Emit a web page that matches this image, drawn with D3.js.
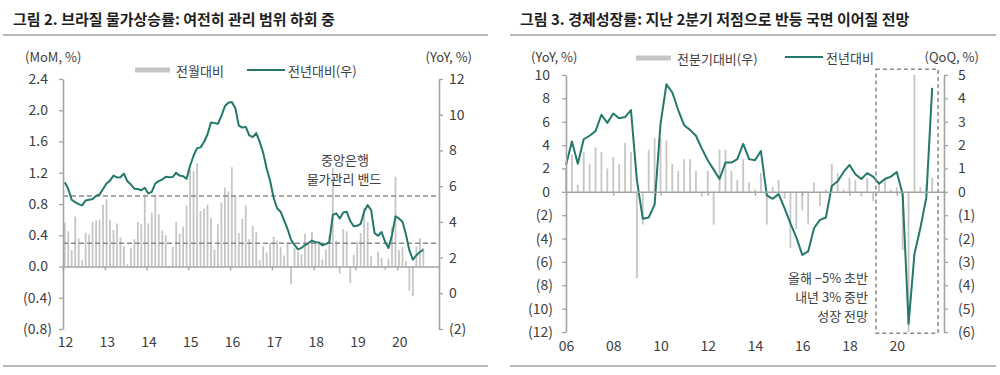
<!DOCTYPE html>
<html>
<head>
<meta charset="utf-8">
<script src="https://cdn.jsdelivr.net/npm/d3@7"></script>
<style>
  body { margin: 0; background: #fff; }
  svg { display: block; font-family: "Noto Sans CJK KR", "Noto Sans", sans-serif; }
</style>
</head>
<body>
<svg id="chart" width="1000" height="375"></svg>
<script>
// ---------- 그림 2: 브라질 물가상승률 (monthly, 2012.01 ~ 2020.08) ----------
const cpiStart = [2012, 1];
const cpiMoM = [
  0.56, 0.45, 0.21, 0.64, 0.36, 0.08, 0.43, 0.41, 0.57, 0.59, 0.60, 0.79,
  0.86, 0.60, 0.47, 0.55, 0.37, 0.26, 0.03, 0.24, 0.35, 0.57, 0.54, 0.92,
  0.55, 0.69, 0.92, 0.67, 0.46, 0.40, 0.01, 0.25, 0.57, 0.42, 0.51, 0.78,
  1.24, 1.22, 1.32, 0.71, 0.74, 0.79, 0.62, 0.22, 0.54, 0.82, 1.01, 0.96,
  1.27, 0.90, 0.43, 0.61, 0.78, 0.35, 0.52, 0.44, 0.08, 0.26, 0.18, 0.30,
  0.38, 0.33, 0.25, 0.14, 0.31, -0.23, 0.24, 0.19, 0.16, 0.42, 0.28, 0.44,
  0.29, 0.32, 0.09, 0.22, 0.40, 1.26, 0.33, -0.09, 0.48, 0.45, -0.21, 0.15,
  0.32, 0.43, 0.75, 0.57, 0.13, 0.01, 0.19, 0.11, -0.04, 0.10, 0.51, 1.15,
  0.21, 0.25, 0.07, -0.31, -0.38, 0.26, 0.36, 0.24
];
const cpiYoY = [
  6.22, 5.85, 5.24, 5.10, 4.99, 4.92, 5.20, 5.24, 5.28, 5.45, 5.53, 5.84,
  6.15, 6.31, 6.59, 6.49, 6.50, 6.70, 6.27, 6.09, 5.86, 5.84, 5.77, 5.91,
  5.59, 5.68, 6.15, 6.28, 6.37, 6.52, 6.50, 6.51, 6.75, 6.59, 6.56, 6.41,
  7.14, 7.70, 8.13, 8.17, 8.47, 8.89, 9.56, 9.53, 9.49, 9.93, 10.48, 10.67,
  10.71, 10.36, 9.39, 9.28, 9.32, 8.84, 8.74, 8.97, 8.48, 7.87, 6.99, 6.29,
  5.35, 4.76, 4.57, 4.08, 3.60, 3.00, 2.71, 2.46, 2.54, 2.70, 2.80, 2.95,
  2.86, 2.84, 2.68, 2.76, 2.86, 4.39, 4.48, 4.19, 4.53, 4.56, 4.05, 3.75,
  3.78, 3.89, 4.58, 4.94, 4.66, 3.37, 3.22, 3.43, 2.89, 2.54, 3.27, 4.31,
  4.19, 4.01, 3.30, 2.40, 1.88, 2.13, 2.31, 2.44
];
const cpiBand = [2.8, 5.45];               // 중앙은행 물가관리 밴드 (YoY axis)
const cpiYears = [2012, 2013, 2014, 2015, 2016, 2017, 2018, 2019, 2020];
const cpiLeftTicks = [-0.8, -0.4, 0, 0.4, 0.8, 1.2, 1.6, 2.0, 2.4];
const cpiRightTicks = [-2, 0, 2, 4, 6, 8, 10, 12];

// ---------- 그림 3: 경제성장률 (quarterly, 2005.4Q ~ 2021.2Q) ----------
const gdpStart = [2005, 4];
const gdpYoY = [
  2.3, 4.3, 2.4, 4.5, 4.8, 5.2, 6.6, 5.9, 6.7, 6.3, 6.4, 7.0,
  1.0, -2.3, -2.2, -1.1, 5.8, 9.2, 8.5, 7.0, 5.7, 5.3, 4.8, 3.7,
  2.7, 1.9, 1.1, 2.5, 2.5, 2.8, 4.1, 2.8, 2.7, 3.5, -0.3, -0.6,
  -0.2, -1.4, -2.7, -3.9, -5.4, -5.1, -3.1, -2.4, -2.2, 0.5, 0.9, 1.7,
  2.3, 1.5, 1.1, 1.6, 1.3, 0.7, 1.1, 1.3, 1.7, -0.2, -11.3, -5.3,
  -3.1, -0.5, 8.9
];
const gdpQoQ = [
  1.0, 1.6, 0.3, 1.7, 1.2, 1.9, 1.7, 1.0, 1.5, 1.2, 2.1, 1.7,
  -3.7, -1.4, 1.8, 2.3, 2.3, 2.2, 1.2, 0.9, 1.4, 1.4, 0.9, -0.2,
  0.9, -1.4, 1.8, 1.8, 0.9, 0.5, 1.4, 0.4, 0.1, 0.8, -1.4, 0.2,
  0.5, -0.3, -2.4, -1.6, -0.8, -1.4, 0.4, -0.6, 0.1, 1.2, 0.8, 0.1,
  0.6, 0.5, -0.2, 0.6, -0.4, 0.4, 0.5, 0.1, 0.2, -2.5, -6.0, 5.0,
  0.2, 0.3, 0.6
];
const gdpForecastSpan = [2019.12, 2021.75];  // 전망 구간 (dashed box, in years)
const gdpYears = [2006, 2008, 2010, 2012, 2014, 2016, 2018, 2020];
const gdpLeftTicks = [-12, -10, -8, -6, -4, -2, 0, 2, 4, 6, 8, 10];
const gdpRightTicks = [-6, -5, -4, -3, -2, -1, 0, 1, 2, 3, 4, 5];

const lineColor = "#23786b";
const barColor = "#c6c6c6";
const axisColor = "#a3a3a3";
const textColor = "#404040";

const svg = d3.select("#chart");

// number with accounting style negatives
function fmt(decimals) {
  return v => {
    const s = Math.abs(v).toFixed(decimals);
    return v < 0 ? `(${s})` : s;
  };
}

function styleAxis(g) {
  g.select(".domain").attr("stroke", axisColor).attr("stroke-width", 1.6);
  g.selectAll(".tick line").attr("stroke", axisColor).attr("stroke-width", 1.3);
  g.selectAll(".tick text").attr("fill", textColor).style("font-size", "14px")
    .style("font-family", '"Noto Sans CJK KR", sans-serif');
}

function header(x0, x1, title) {
  svg.append("text")
    .attr("x", x0 + 10).attr("y", 18)
    .attr("dominant-baseline", "central")
    .style("font-size", "15px").style("font-weight", "700")
    .attr("fill", "#1e1e1e")
    .text(title);
  svg.append("line").attr("x1", x0).attr("x2", x1).attr("y1", 35).attr("y2", 35)
    .attr("stroke", "#a0a0a0").attr("stroke-width", 1.5);
  svg.append("line").attr("x1", x0).attr("x2", x1).attr("y1", 366).attr("y2", 366)
    .attr("stroke", "#a0a0a0").attr("stroke-width", 1.5);
}

function label(x, y, txt, anchor) {
  return svg.append("text")
    .attr("x", x).attr("y", y)
    .attr("text-anchor", anchor || "start")
    .attr("dominant-baseline", "central")
    .attr("fill", textColor)
    .style("font-size", "13px")
    .text(txt);
}

function legend(x, y, kind, txt) {
  if (kind === "bar") {
    svg.append("rect").attr("x", x).attr("y", y - 2.5).attr("width", 35).attr("height", 5)
      .attr("fill", barColor);
  } else {
    svg.append("line").attr("x1", x).attr("x2", x + 38).attr("y1", y).attr("y2", y)
      .attr("stroke", lineColor).attr("stroke-width", 2);
  }
  label(x + 41, y, txt);
}

// ======================= 그림 2 =======================
{
  header(3, 488, "그림 2. 브라질 물가상승률: 여전히 관리 범위 하회 중");

  const x = d3.scaleLinear().domain([2012, 2021]).range([63, 439]);
  const yL = d3.scaleLinear().domain([-0.8, 2.4]).range([329, 79]);
  const yR = d3.scaleLinear().domain([-2, 12]).range([329, 79]);
  const t = i => cpiStart[0] + (cpiStart[1] - 1 + i + 0.5) / 12;

  // bars
  svg.append("g").selectAll("rect")
    .data(cpiMoM)
    .join("rect")
    .attr("x", (d, i) => x(t(i)) - 0.9)
    .attr("width", 1.8)
    .attr("y", d => yL(Math.max(0, d)))
    .attr("height", d => Math.abs(yL(d) - yL(0)))
    .attr("fill", barColor);

  // band lines
  svg.append("g").selectAll("line")
    .data(cpiBand)
    .join("line")
    .attr("x1", x(2012)).attr("x2", x(2021))
    .attr("y1", d => yR(d)).attr("y2", d => yR(d))
    .attr("stroke", "#8a8a8a").attr("stroke-width", 1.5)
    .attr("stroke-dasharray", "5,3");

  // YoY line
  svg.append("path")
    .datum(cpiYoY)
    .attr("fill", "none")
    .attr("stroke", lineColor)
    .attr("stroke-width", 2)
    .attr("stroke-linejoin", "round")
    .attr("d", d3.line().x((d, i) => x(t(i))).y(d => yR(d)));

  // axes
  const axL = svg.append("g").attr("transform", `translate(${x(2012)},0)`)
    .call(d3.axisLeft(yL).tickValues(cpiLeftTicks).tickFormat(fmt(1))
      .tickSize(4).tickSizeOuter(0).tickPadding(7));
  styleAxis(axL);
  axL.selectAll(".tick text").attr("dx", d => d < 0 ? 0 : -4);

  const axR = svg.append("g").attr("transform", `translate(${x(2021)},0)`)
    .call(d3.axisRight(yR).tickValues(cpiRightTicks).tickFormat(fmt(0))
      .tickSize(4).tickSizeOuter(0).tickPadding(6));
  styleAxis(axR);

  const axX = svg.append("g").attr("transform", `translate(0,${yL(0)})`)
    .call(d3.axisBottom(x).tickValues(cpiYears.concat([2021])).tickFormat("")
      .tickSize(4).tickSizeOuter(0));
  styleAxis(axX);

  const axXLab = svg.append("g").attr("transform", `translate(2,${yL(-0.8) + 5})`)
    .call(d3.axisBottom(x).tickValues(cpiYears).tickFormat(d => String(d).slice(2))
      .tickSize(0).tickPadding(3));
  styleAxis(axXLab);
  axXLab.select(".domain").remove();

  label(25, 56, "(MoM, %)");
  label(472, 56, "(YoY, %)", "end");
  legend(135, 70, "bar", "전월대비");
  legend(247, 70, "line", "전년대비(우)");
  label(345, 159, "중앙은행", "middle");
  label(344, 178, "물가관리 밴드", "middle");
}

// ======================= 그림 3 =======================
{
  header(510, 996, "그림 3. 경제성장률: 지난 2분기 저점으로 반등 국면 이어질 전망");

  const x = d3.scaleLinear().domain([2006, 2022]).range([566, 944]);
  const yL = d3.scaleLinear().domain([-12, 10]).range([332, 75]);
  const yR = d3.scaleLinear().domain([-6, 5]).range([332, 75]);
  const t = i => gdpStart[0] + (gdpStart[1] + i) / 4;

  // QoQ bars (right axis)
  svg.append("g").selectAll("rect")
    .data(gdpQoQ)
    .join("rect")
    .attr("x", (d, i) => x(t(i)) - 0.9)
    .attr("width", 1.8)
    .attr("y", d => yR(Math.max(0, d)))
    .attr("height", d => Math.abs(yR(d) - yR(0)))
    .attr("fill", barColor);

  // YoY line (left axis)
  svg.append("path")
    .datum(gdpYoY)
    .attr("fill", "none")
    .attr("stroke", lineColor)
    .attr("stroke-width", 2)
    .attr("stroke-linejoin", "round")
    .attr("d", d3.line().x((d, i) => x(t(i))).y(d => yL(d)));

  // forecast box
  svg.append("rect")
    .attr("x", x(gdpForecastSpan[0]))
    .attr("width", x(gdpForecastSpan[1]) - x(gdpForecastSpan[0]))
    .attr("y", yL(10.5))
    .attr("height", yL(-12.1) - yL(10.5))
    .attr("fill", "none")
    .attr("stroke", "#8a8a8a").attr("stroke-width", 1.5)
    .attr("stroke-dasharray", "4,3");

  const axL = svg.append("g").attr("transform", `translate(${x(2006)},0)`)
    .call(d3.axisLeft(yL).tickValues(gdpLeftTicks).tickFormat(fmt(0))
      .tickSize(4).tickSizeOuter(0).tickPadding(9));
  styleAxis(axL);
  axL.selectAll(".tick text").attr("dx", d => d < 0 ? 0 : -3);

  const axR = svg.append("g").attr("transform", `translate(${x(2022)},0)`)
    .call(d3.axisRight(yR).tickValues(gdpRightTicks).tickFormat(fmt(0))
      .tickSize(4).tickSizeOuter(0).tickPadding(10));
  styleAxis(axR);

  const axX = svg.append("g").attr("transform", `translate(0,${yL(0)})`)
    .call(d3.axisBottom(x).tickValues(gdpYears.concat([2022])).tickFormat("")
      .tickSize(4).tickSizeOuter(0));
  styleAxis(axX);

  const axXLab = svg.append("g").attr("transform", `translate(0,${yL(-12) + 6})`)
    .call(d3.axisBottom(x).tickValues(gdpYears).tickFormat(d => String(d).slice(2))
      .tickSize(0).tickPadding(3));
  styleAxis(axXLab);
  axXLab.select(".domain").remove();

  label(531, 56, "(YoY, %)");
  label(979, 56, "(QoQ, %)", "end");
  legend(636, 58, "bar", "전분기대비(우)");
  legend(785, 57, "line", "전년대비");
  label(868, 277, "올해 −5% 초반", "end");
  label(868, 296, "내년 3% 중반", "end");
  label(868, 315, "성장 전망", "end");
}
</script>
</body>
</html>
